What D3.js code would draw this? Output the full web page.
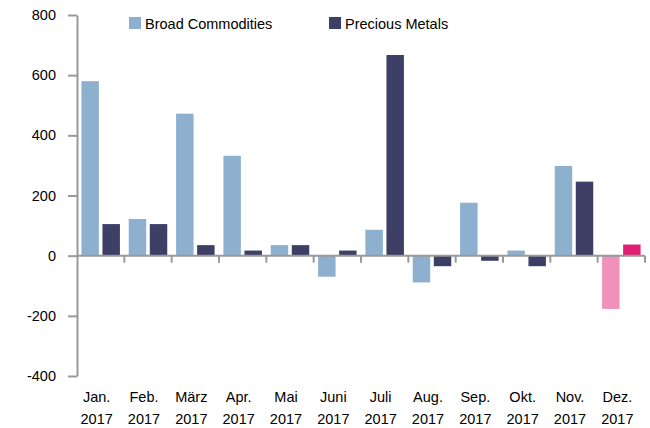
<!DOCTYPE html>
<html>
  <head>
    <meta charset="utf-8">
    <script src="https://d3js.org/d3.v7.min.js"></script>
    <style>
      body { margin: 0; background: #fff; }
      svg { font-family: "Liberation Sans", Arial, sans-serif; }
      .axis path, .axis line { stroke: #999; stroke-width: 2; }
    </style>
  </head>
  <body>
    <script>
      // data
      var months = ["Jan.", "Feb.", "März", "Apr.", "Mai", "Juni", "Juli", "Aug.", "Sep.", "Okt.", "Nov.", "Dez."];
      var years = ["2017", "2017", "2017", "2017", "2017", "2017", "2017", "2017", "2017", "2017", "2017", "2017"];
      var broad = [580, 122, 472, 332, 35, -70, 86, -89, 176, 17, 298, -177];
      var precious = [105, 105, 35, 17, 35, 17, 667, -35, -17, -35, 246, 37];
      var seriesNames = ["Broad Commodities", "Precious Metals"];
      var yTicks = [-400, -200, 0, 200, 400, 600, 800];

      var colors = ["#8db0cf", "#3d3f66"];
      var highlight = ["#f091b9", "#e01f72"]; // last month

      var W = 650, H = 428;
      var plotLeft = 77, plotRight = 645, plotTop = 15, plotBottom = 376;

      var svg = d3.select("body").append("svg")
          .attr("width", W)
          .attr("height", H);

      var x = d3.scaleBand().domain(d3.range(months.length)).range([plotLeft, plotRight]);
      var xs = d3.scaleBand().domain([0, 1]).range([0, x.bandwidth()])
          .paddingInner(0.17).paddingOuter(0.21);
      var y = d3.scaleLinear().domain([-400, 800]).range([plotBottom, plotTop]);

      var rows = [];
      months.forEach(function(m, i) {
        rows.push({i: i, s: 0, v: broad[i]});
        rows.push({i: i, s: 1, v: precious[i]});
      });

      // bars
      svg.selectAll(".bar")
          .data(rows)
        .enter().append("rect")
          .attr("class", "bar")
          .attr("x", function(d) { return x(d.i) + xs(d.s); })
          .attr("width", xs.bandwidth())
          .attr("y", function(d) { return y(Math.max(0, d.v)); })
          .attr("height", function(d) { return Math.abs(y(d.v) - y(0)); })
          .style("fill", function(d) { return d.i == months.length - 1 ? highlight[d.s] : colors[d.s]; });

      // y axis (plain hyphen for negatives, as in the original)
      var yAxis = svg.append("g")
          .attr("class", "axis")
          .attr("transform", "translate(" + plotLeft + ",0)")
          .call(d3.axisLeft(y).tickValues(yTicks)
              .tickFormat(function(d) { return String(d); })
              .tickSize(9).tickSizeOuter(0).tickPadding(12));
      yAxis.selectAll("text")
          .style("font-size", "14.5px")
          .attr("fill", "#000");

      // zero line with category ticks
      var xAxis = svg.append("g")
          .attr("class", "axis")
          .attr("transform", "translate(0," + y(0) + ")");
      xAxis.append("line")
          .attr("x1", plotLeft).attr("x2", plotRight);
      xAxis.selectAll(".xt")
          .data(d3.range(1, months.length + 1))
        .enter().append("line")
          .attr("class", "xt")
          .attr("x1", function(d) { return plotLeft + d * x.step(); })
          .attr("x2", function(d) { return plotLeft + d * x.step(); })
          .attr("y1", 0)
          .attr("y2", 7);

      // category labels
      var lab = svg.selectAll(".lab")
          .data(months)
        .enter().append("text")
          .attr("class", "lab")
          .attr("x", function(d, i) { return x(i) + x.bandwidth() / 2 - 4; })
          .attr("y", 402)
          .attr("text-anchor", "middle")
          .style("font-size", "14.5px");
      lab.append("tspan").text(function(d) { return d; });
      lab.append("tspan")
          .attr("x", function(d, i) { return x(i) + x.bandwidth() / 2 - 4; })
          .attr("dy", 22)
          .text(function(d, i) { return years[i]; });

      // legend
      var legX = [129, 329];
      var leg = svg.selectAll(".leg")
          .data(seriesNames)
        .enter().append("g")
          .attr("class", "leg")
          .attr("transform", function(d, i) { return "translate(" + legX[i] + ",17)"; });
      leg.append("rect")
          .attr("width", 12).attr("height", 12)
          .style("fill", function(d, i) { return colors[i]; });
      leg.append("text")
          .attr("x", 16).attr("y", 11.5)
          .style("font-size", "14.5px")
          .text(function(d) { return d; });
    </script>
  </body>
</html>
